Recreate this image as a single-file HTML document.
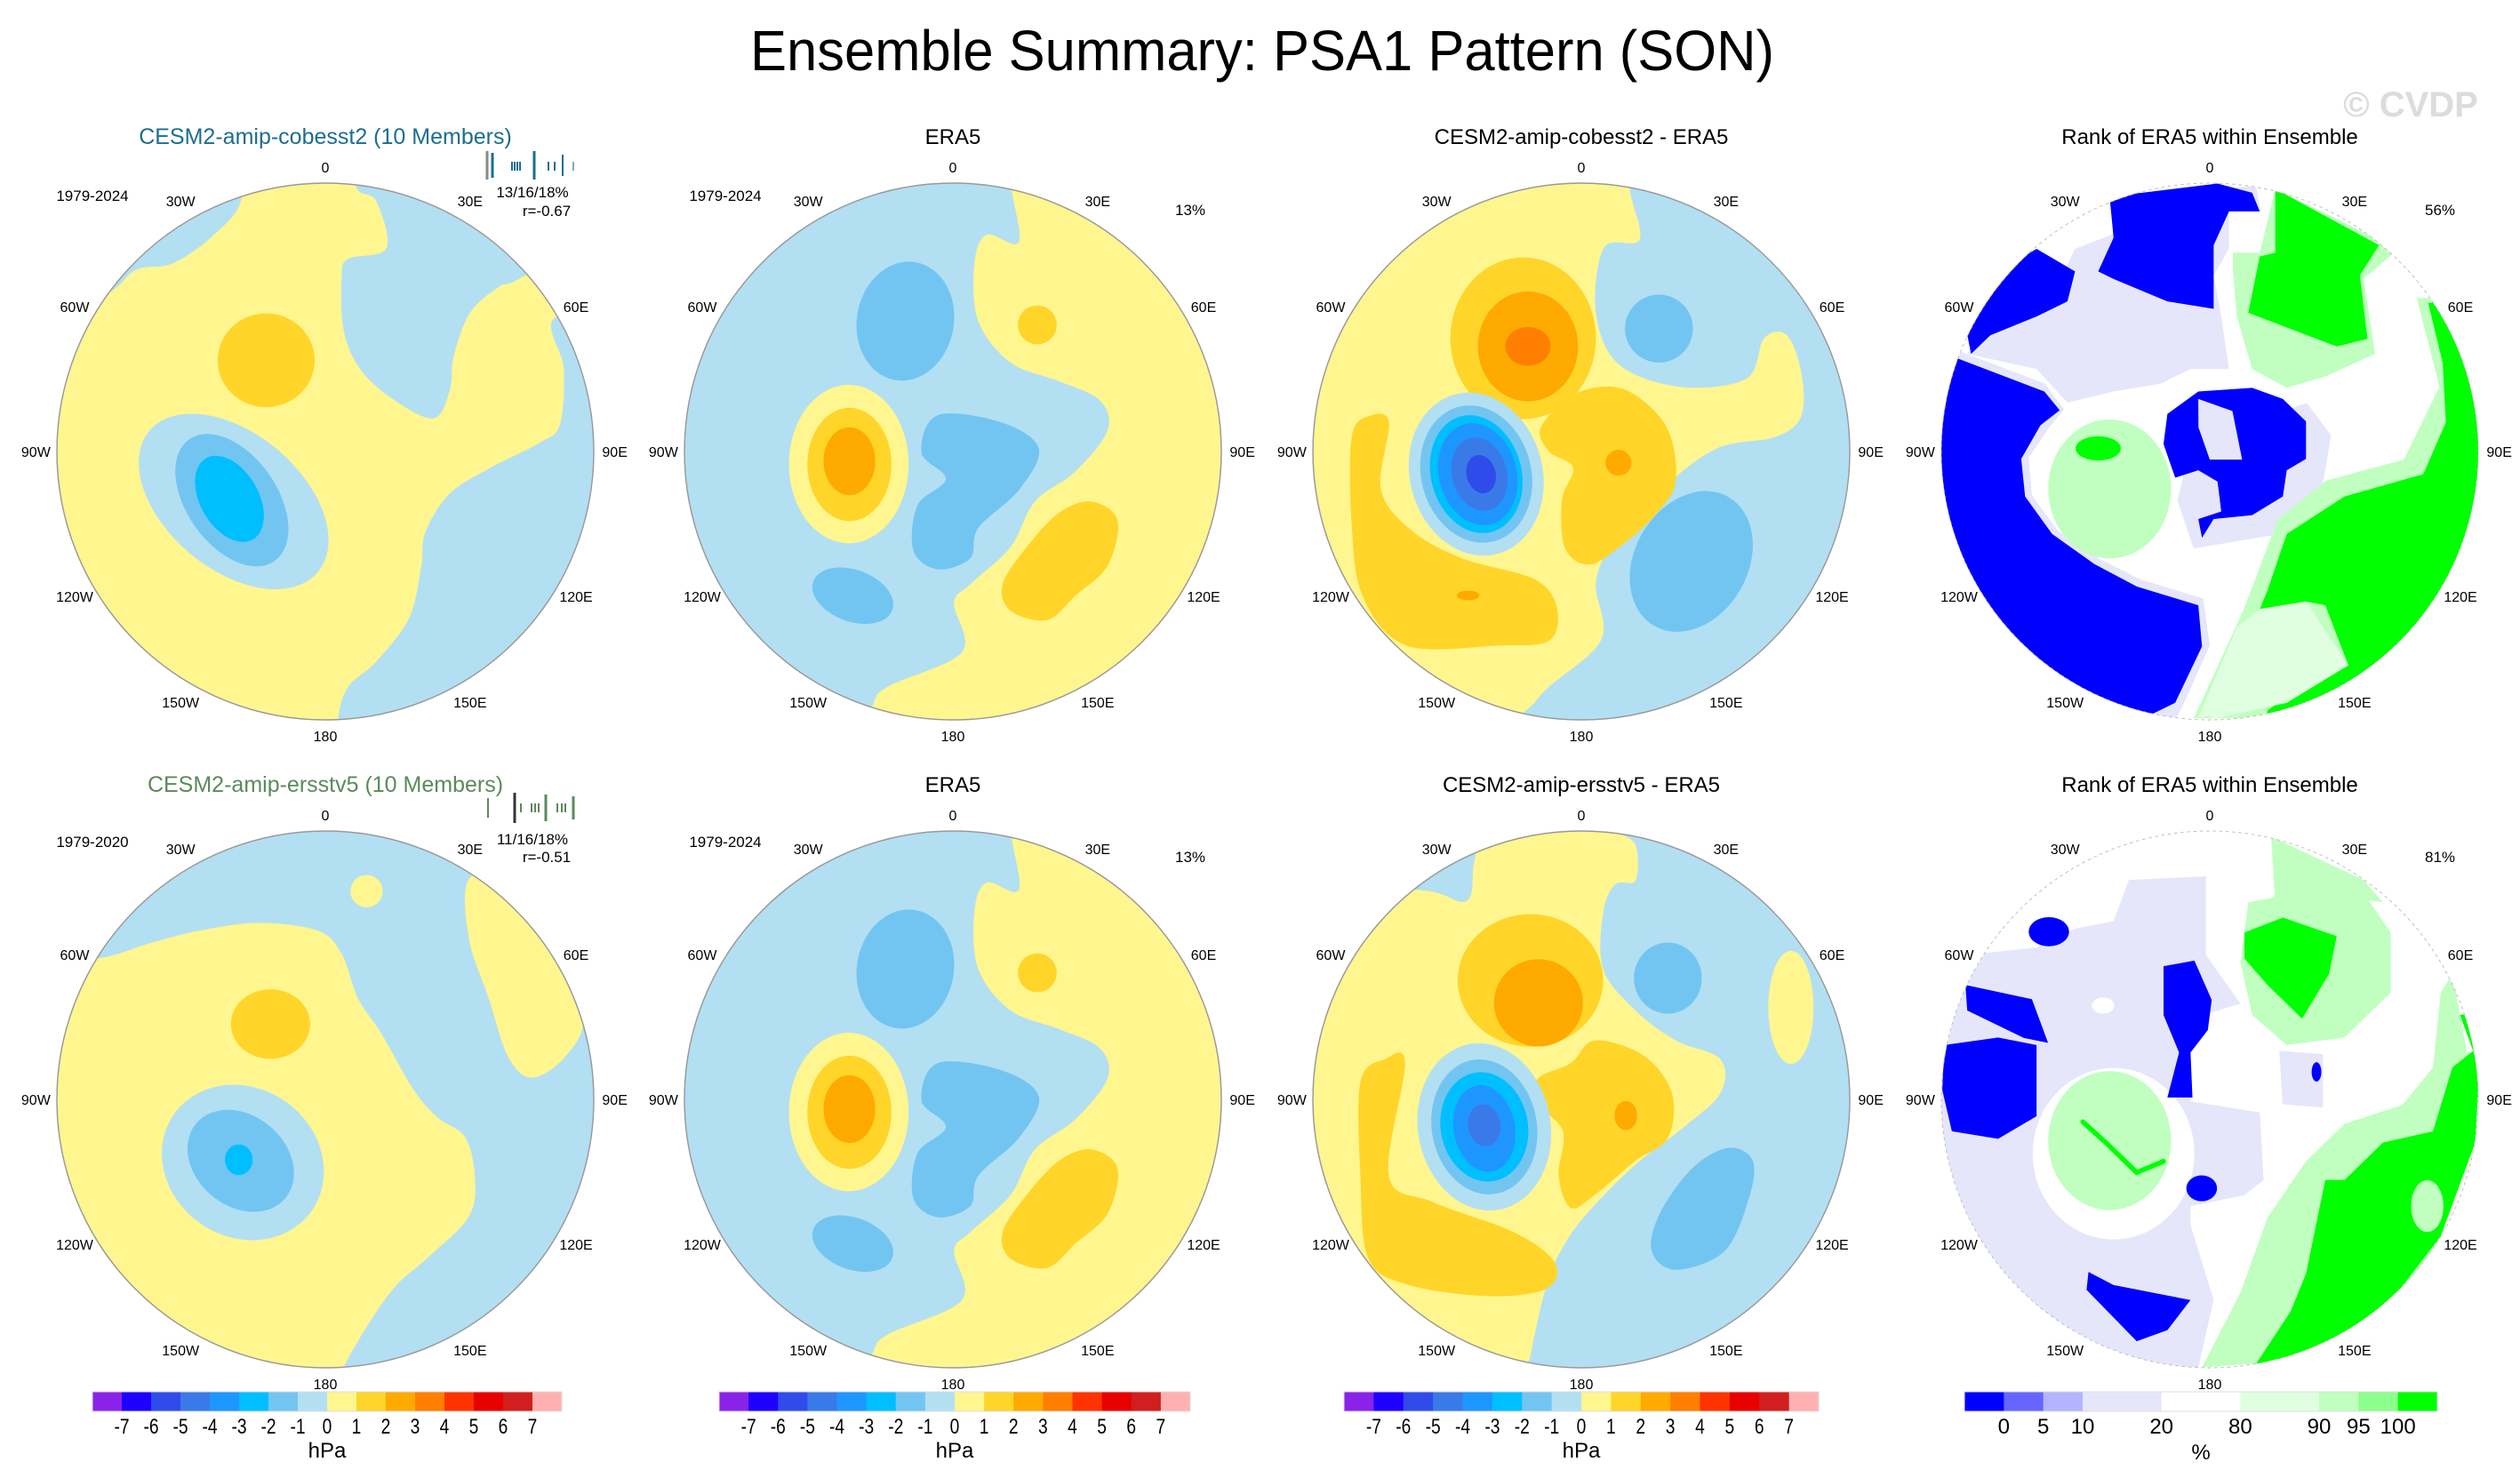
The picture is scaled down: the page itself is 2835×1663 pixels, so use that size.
<!DOCTYPE html>
<html><head><meta charset="utf-8"><title>Ensemble Summary: PSA1 Pattern (SON)</title>
<style>html,body{margin:0;padding:0;background:#fff}svg{display:block}text{font-family:"Liberation Sans",Arial,sans-serif}</style>
</head><body>
<svg id="fig" xmlns="http://www.w3.org/2000/svg" width="2835" height="1663" viewBox="0 0 2835 1663">
<rect width="2835" height="1663" fill="#fff"/>
<text x="1420" y="79" font-size="64" text-anchor="middle" textLength="1152" lengthAdjust="spacingAndGlyphs">Ensemble Summary: PSA1 Pattern (SON)</text>
<text x="2712" y="131" font-size="40" font-weight="bold" fill="#dcdcdc" text-anchor="middle">© CVDP</text>
<g id="panels"></g>
</svg>
<script>
// colour scale data (hPa)
const hpaLabels=["-7","-6","-5","-4","-3","-2","-1","0","1","2","3","4","5","6","7"];
const hpaColors=["#8A22E8","#1E00FF","#2F4BEA","#3A7AE8","#1E96FF","#00BFFF","#73C5F1","#B3DFF3","#FFF68F","#FFD52A","#FFAA00","#FF7F00","#FF3300","#E80000","#D11E1E","#FFB1B1"];
// rank scale data (%)
const rankLabels=["0","5","10","20","80","90","95","100"];
const rankColors=["#0000FF","#6666FF","#B3B3FF","#E6E6FA","#FFFFFF","#E0FFE0","#C0FFC0","#8CFF8C","#00FF00"];
const rankWeights=[1,1,1,2,2,2,1,1,1];
const lonLabels=["0","30E","60E","90E","120E","150E","180","150W","120W","90W","60W","30W"];

const LB="#B3DFF3",MB="#73C5F1",CY="#00BFFF",B4="#1E96FF",B5="#3A7AE8",Y="#FFF68F",G="#FFD52A",O="#FFAA00",DO="#FF7F00";
const BL="#0000FF",LAV="#E6E6FA",W="#FFFFFF",LG="#C0FFC0",LLG="#E0FFE0",GR="#00FF00";

const P1=[Y,
 ['p',LB,[18.9,-164.2,31.5,-154.9,37.8,-125.7,13.9,-119,10.1,-107,11.3,-75.1,21.4,-51.1,41.6,-32.5,66.8,-20.5,76.9,-37.8,79.4,-59.1,89.5,-85.8,107.2,-101.7,124.8,-109.7,200,-160,100,-200,18,-200]],
 ['p',LB,[142.5,-83,147.5,-51.1,145,-16.5,132.4,-5.3,102.1,10.1,76.9,26.1,61.8,50,59.3,71.3,51.7,103.3,31.5,129.9,13.9,145.9,7.6,167.2,7,200,200,200,200,-83]],
 ['p',LB,[-140,-96.4,-117.2,-112.3,-94.6,-116.3,-69.4,-133.6,-51.7,-157.6,-60,-200,-200,-200,-200,-96]],
 ['e',LB,-56.7,30.9,68,42,40],['e',MB,-57.8,30.1,46,28,55],['e',CY,-59.3,29.3,29,18,60],
 ['e',G,-36.6,-56.4,30,29,0]];
const PERA=[LB,
 ['p',Y,[35.7,-165.5,40.7,-129.5,20.7,-134,13.2,-115.5,15.7,-80.6,35.7,-55,65.7,-43.4,90.7,-31.8,95.7,-13.2,75.7,12.4,50.7,31,35.7,59,10.7,82.2,0.7,93.8,5.7,124,-39.4,145,-49.4,156.6,-60,190,190,190,190,-190,35,-190]],
 ['e',MB,-29.4,-80.6,30,37,10],
 ['p',MB,[-9.3,-22.5,30.7,-17.8,53.2,-1.5,40.7,24,15.7,47.3,10.7,66,-9.3,72.9,-24.4,61.3,-21.9,33.3,-4.3,17,-19.4,0.8]],
 ['e',MB,-61.9,89.2,26,16,20],
 ['e',Y,-64.4,7.8,37,49,0],['e',G,-64,8,26,35,0],['e',O,-64,6,16,21,0],
 ['e',G,52.2,-78.3,12,12,0],
 ['p',G,[85.7,31,101.8,42.6,95.7,70.6,75.7,89.2,58.2,104.3,35.7,98.5,30.7,82.2,45.7,59,65.7,37.9]]];
const P3=[Y,
 ['p',LB,[30,-162,36,-131,14,-126,9,-86,23,-54,61,-40,102,-45,113,-70,127,-72,136,-49,136,-22,120,-9,84,-2,50,23,21,54,9,81,12,117,-27,153,-40,190,190,190,190,-190,30,-190]],
 ['e',MB,48,-76,21,21,0],['e',MB,68,68,35,46,30],
 ['e',G,-36,-70,45,50,0],['e',O,-33,-65,31,34,0],['e',DO,-33,-65,14,12,0],
 ['p',G,[-5,-35,20,-40,40,-30,55,-10,58,20,45,40,25,58,5,70,-10,60,-12,30,-5,10,-20,0,-25,-15]],
 ['e',O,23,7,8,8,0],
 ['p',G,[-142,45,-142,-9,-131,-22,-119,-18,-124,23,-106,48,-74,66,-29,79,-15,97,-20,117,-51,120,-108,120,-135,90]],
 ['e',O,-70,89,7,3,0],
 ['e',LB,-65,14,41,51,-15],['e',MB,-65,14,34,43,-15],['e',CY,-65,14,28,37,-15],['e',B4,-64,14,24,32,-15],['e',B5,-63,14,17,23,-15],['e',"#2F4BEA",-62,14,9,12,-15]];
const P5=[LB,
 ['p',Y,[-141.8,-87.1,-107.5,-96.9,-78,-104.3,-41.3,-109.2,-4.4,-104.3,10.3,-89.6,20.1,-62.6,34.8,-40.5,54.5,-6.1,69.2,11,86.4,23.3,92.5,47.9,88.8,72.4,64.3,97,44.7,114.1,30,133.8,15.2,158.3,10.3,170,10,190,-190,190,-190,-87]],
 ['p',Y,[88.8,-136.2,115.8,-138.6,152.6,-99.4,160,-50.3,147.7,-25.8,128,-13.5,113.3,-25.8,101,-62.6,88.8,-99.4]],
 ['e',Y,25.5,-128.8,10,10,0],
 ['e',LB,-51,39,52,46,35],['e',MB,-52.3,38,36,28,40],['e',CY,-53.5,37.3,8.6,9.5,0],
 ['e',G,-33.9,-46.6,24.5,21.5,0]];
const P7=[Y,
 ['p',LB,[-104,-129.5,-71.5,-122.5,-66.5,-145.8,-61.5,-159.7,-41.6,-167.9,-60,-200,-200,-200,-200,-120]],
 ['p',LB,[21,-167.9,33.5,-157.4,33.5,-135.3,21,-133,13.5,-115.5,13.5,-80.6,33.5,-55,58.5,-36.4,86,-24.8,86,-3.9,63.6,17,33.5,40.3,3.5,70.6,-11.5,91.5,-21.5,114.8,-31.5,159,-35,190,190,190,190,-190,21,-190]],
 ['e',Y,129.6,-56.9,14,35,0],['e',MB,53.5,-75,21,22,0],
 ['p',MB,[91,29.9,106,38,103.6,61.3,88.6,93.8,58.5,105.4,43.5,93.8,48.5,70.6,68.6,42.6]],
 ['e',G,-31.5,-73.6,45,41,0],['e',O,-26.5,-59.7,27.5,27,0],
 ['p',G,[8.5,-36.4,38.5,-27.1,56,-3.9,53.5,24,33.5,38,8.5,58.9,-6.5,67.1,-14,47.3,-11.5,19.4,-29,0.8,-26.5,-13.2,-6.5,-22.5]],
 ['e',O,27.5,10,7,9,0],
 ['p',G,[-121.6,-24.8,-109,-22.5,-119,47.3,-91.6,63.6,-41.6,82.2,-16.5,100.8,-21.5,117,-56.5,121.7,-106.6,114.8,-131.6,98.5,-136.6,47.3,-136.6,-10.9]],
 ['e',LB,-60,17,41,52,-10],['e',MB,-60,17,32.5,42,-10],['e',CY,-60,17,27,34,-10],['e',B4,-60,18,19,27,-10],['e',B5,-60,16,10,13,-10]];
const P4=[W,
 ['q',LAV,[-61.9,-153,-59.5,-134.6,-83.3,-125.3,-102.3,-85.8,-142.8,-71.9,-149.9,-60.3,-107.1,-51,-88,-30.2,-59.5,-37.1,-30.9,-41.8,-11.9,-51,11.9,-51,7.1,-83.5,2.4,-109,11.9,-125.3,11.9,-148.5,30.9,-150.8,28.6,-164.7]],
 ['q',BL,[-61.9,-157.6,4.8,-165.7,26.2,-160,30.9,-148.5,11.9,-148.5,2.4,-127.6,2.4,-88.2,-26.2,-92.8,-59.5,-106.7,-69,-111.4,-59.5,-132.2]],
 ['q',BL,[-107.1,-125.3,-83.3,-111.4,-88,-92.8,-107.1,-83.5,-135.7,-71.9,-147.6,-60.3,-149.9,-71.9,-130.9,-111.4]],
 ['q',LAV,[-160,-64,-102,-42,-90,-26,-100,-14,-112,4,-110,27,-94,49,-69,66,-43,79,-4,91,0,120,-17,158,-40,200,-200,200,-200,-64]],
 ['q',BL,[-157.1,-58,-102.3,-37.1,-92.8,-25.5,-104.7,-16.2,-116.6,4.6,-114.2,27.8,-97.5,51,-71.4,69.6,-45.2,83.5,-7.1,95.1,-4.8,120.6,-21.4,155.4,-35.7,162.4,-40,200,-200,200,-200,-58]],
 ['e',LG,-61.9,23.2,38,43,0],['e',GR,-69,-1.9,14,7.5,0],
 ['q',LAV,[-10,-10,30,-20,60,-30,75,-10,70,20,50,50,20,55,-10,60,-20,30]],
 ['q',BL,[-26.2,-23.2,-7.1,-37.1,26.2,-39.4,45.2,-32.5,59.5,-18.6,59.5,4.6,47.6,11.6,45.2,27.8,26.2,39.4,2.4,41.8,-4.8,53.4,-7.1,41.8,7.1,37.1,4.8,18.6,-7.1,11.6,-21.4,16.2,-28.6,-4.6]],
 ['q',LAV,[-7.1,-32.5,14,-25,20,5,0,5,-7,-15]],
 ['q',LG,[14.3,-122.9,30.9,-122.9,40.5,-162.4,116.6,-125.3,95.2,-106.7,102.3,-60.3,71.4,-46.4,47.6,-39.4,26.2,-51,16.7,-83.5,14.3,-111.4]],
 ['q',GR,[40.5,-162.4,104.7,-127.6,92.8,-109,97.5,-69.6,78.5,-64.9,23.8,-85.8,30.9,-120.6,40.5,-122.9]],
 ['q',LG,[128,-95,142,-40,120,5,72,18,42,42,27,82,20,100,-10,165,60,165,200,200,200,-95]],
 ['q',LLG,[31,97.4,59.5,92.8,85.7,132.2,47.6,155.4,-7.1,164.7,16.7,109]],
 ['q',GR,[135,-92,144,-55,146,-18,132,14,83.3,27.8,47.6,51,35.7,85.8,31,97.4,59.5,92.8,71.4,95.1,85.7,132.2,59.5,143.8,35.7,160,30,200,200,200,200,-92]],
 ['q',LLG,[31,97.4,59.5,92.8,85.7,132.2,47.6,155.4,0,166,16.7,109]]];
const P8=[W,
 ['q',LAV,[-150,-89.3,-107.1,-94,-83.3,-105.6,-59.5,-110.2,-50,-135.7,-2.4,-138,-2.4,-89.3,19,-59.2,-11.9,-49.9,-11.9,1.2,30.9,8.1,33.3,49.9,21.4,59.2,-11.9,66.1,-11.9,77.7,2.4,124.1,-7.1,165.9,-10,200,-200,200,-200,-89]],
 ['q',LAV,[43,-30,70,-28,70,5,45,3]],
 ['e',W,-59.5,33.6,50,53,0],['e',LG,-61.9,25.5,38,43,0],
 ['l',GR,[-78.5,13.9,-64.3,26.7,-45.2,45.2,-28.6,38.3]],
 ['e',W,-66,-58,7,5,0],
 ['q',BL,[-164.2,-33.6,-130.9,-38.3,-107.1,-33.6,-107.1,10.4,-130.9,24.4,-159.5,19.7,-165.4,-5.8]],
 ['q',BL,[-151.1,-70.8,-110,-62,-100,-35,-115,-38,-150,-55]],
 ['e',BL,-99.5,-103.7,12.5,9,0],
 ['q',BL,[-28.6,-82.4,-9.5,-85.8,1.2,-61.5,-1.2,-42.9,-11.9,-29,-10.7,-1.2,-26.2,-1.2,-19,-29,-28.6,-52.2]],
 ['e',BL,-5,55,9.5,8,0],
 ['q',BL,[-75,106.7,-59.5,114.8,-11.9,124.1,-26.2,142.7,-45.2,149.6,-76.2,117.8]],
 ['e',BL,66,-17,3,6,0],
 ['q',LG,[23.8,-121.8,59.5,-128.8,97.5,-124.1,111.9,-103.2,111.9,-66.1,83.3,-38.3,47.6,-33.6,26.2,-52.2,19,-84.7]],
 ['q',LG,[38,-162.4,95.2,-135.7,107.1,-121.8,59.5,-128.8,40.5,-119.5]],
 ['q',GR,[21.4,-103.2,45.2,-112.5,78.5,-100.9,73.8,-77.7,57.1,-49.9,35.7,-70.8,21.4,-87.1]],
 ['q',LG,[150,-77.7,164.2,-1.2,154.7,49.9,130.9,119.5,59.5,161.2,-4.8,165.8,19,119.5,35.7,73.1,59.5,38.3,83.3,15.1,119,3.5,138,-19.7,142.8,-66.1]],
 ['q',GR,[154.7,-52.2,166.6,-19.7,164.2,26.7,142.8,84.7,107.1,131.1,59.5,156.6,28.6,163.6,50,131.1,59.5,107.9,71.4,49.9,83.3,49.9,107.1,26.7,138,19.7,150,-19.7,200,-60]],
 ['e',LG,134.5,66,10,16,0]];

const SVGNS="http://www.w3.org/2000/svg";
const root=document.getElementById('panels');
const S=302/166;
function mk(tag,attrs,parent){const e=document.createElementNS(SVGNS,tag);for(const k in attrs)e.setAttribute(k,attrs[k]);(parent||root).appendChild(e);return e;}
function smooth(p){const n=p.length/2;let pts=[];for(let i=0;i<n;i++)pts.push([p[2*i],p[2*i+1]]);
 let d="M"+pts[0][0]+","+pts[0][1];
 for(let i=0;i<n;i++){const p0=pts[(i-1+n)%n],p1=pts[i],p2=pts[(i+1)%n],p3=pts[(i+2)%n];
  d+="C"+(p1[0]+(p2[0]-p0[0])/6)+","+(p1[1]+(p2[1]-p0[1])/6)+" "+(p2[0]-(p3[0]-p1[0])/6)+","+(p2[1]-(p3[1]-p1[1])/6)+" "+p2[0]+","+p2[1];}
 return d+"Z";}
function poly(p){let d="M"+p[0]+","+p[1];for(let i=2;i<p.length;i+=2)d+="L"+p[i]+","+p[i+1];return d+"Z";}
let clipN=0;
function panel(cx,cy,shapes,name,rank){
 const id="clip"+(clipN++);
 const cp=mk('clipPath',{id:id});mk('circle',{cx:0,cy:0,r:166},cp);
 const g=mk('g',{transform:`translate(${cx},${cy}) scale(${S})`});
 
 
 const inner=mk('g',{'clip-path':`url(#${id})`},g);
 mk('rect',{x:-170,y:-170,width:340,height:340,fill:shapes[0]},inner);
 for(let i=1;i<shapes.length;i++){const s=shapes[i];let el;
  if(s[0]==='e')el=mk('ellipse',{cx:0,cy:0,rx:s[4],ry:s[5],fill:s[1],transform:`translate(${s[2]},${s[3]}) rotate(${s[6]})`},inner);
  else if(s[0]==='p')el=mk('path',{d:smooth(s[2]),fill:s[1]},inner);
  else if(s[0]==='q')el=mk('path',{d:poly(s[2]),fill:s[1]},inner);
  else if(s[0]==='l'){let d="M"+s[2][0]+","+s[2][1];for(let k=2;k<s[2].length;k+=2)d+="L"+s[2][k]+","+s[2][k+1];el=mk('path',{d:d,fill:'none',stroke:s[1],'stroke-width':3,'stroke-linecap':'round'},inner);}
  
  }
 const b=mk('circle',{cx:0,cy:0,r:166,fill:'none',stroke:rank?'#bbb':'#999','stroke-width':rank?0.5:0.8,'stroke-dasharray':rank?'2,2':'none'},g);
 
 
 lonLabels.forEach((lab,i)=>{const a=i*30*Math.PI/180;const R=(i===0||i===6)?176:179;
  const t=mk('text',{x:cx+S*R*Math.sin(a),y:cy-S*R*Math.cos(a)+6,'font-size':16,'text-anchor':'middle'});t.textContent=lab;
  
  });
}
function txt(x,y,s,str,name,extra){const t=mk('text',Object.assign({x:x,y:y,'font-size':s},extra||{}));t.textContent=str;
 
 return t;}
const cxs=[366,1072,1779,2486],cys=[508,1237];
panel(cxs[0],cys[0],P1,'map-cobesst2',false);
panel(cxs[1],cys[0],PERA,'map-era5-row1',false);
panel(cxs[2],cys[0],P3,'map-diff-cobesst2',false);
panel(cxs[3],cys[0],P4,'map-rank-row1',true);
panel(cxs[0],cys[1],P5,'map-ersstv5',false);
panel(cxs[1],cys[1],PERA,'map-era5-row2',false);
panel(cxs[2],cys[1],P7,'map-diff-ersstv5',false);
panel(cxs[3],cys[1],P8,'map-rank-row2',true);

const tY=[162,891];
txt(366,tY[0],25,"CESM2-amip-cobesst2 (10 Members)","title-cobesst2",{'text-anchor':'middle',fill:'#1B6E8F'});
txt(1072,tY[0],24,"ERA5","title-era5-row1",{'text-anchor':'middle'});
txt(1779,tY[0],24,"CESM2-amip-cobesst2 - ERA5","title-diff-row1",{'text-anchor':'middle'});
txt(2486,tY[0],24,"Rank of ERA5 within Ensemble","title-rank-row1",{'text-anchor':'middle'});
txt(366,tY[1],25,"CESM2-amip-ersstv5 (10 Members)","title-ersstv5",{'text-anchor':'middle',fill:'#5B8A5B'});
txt(1072,tY[1],24,"ERA5","title-era5-row2",{'text-anchor':'middle'});
txt(1779,tY[1],24,"CESM2-amip-ersstv5 - ERA5","title-diff-row2",{'text-anchor':'middle'});
txt(2486,tY[1],24,"Rank of ERA5 within Ensemble","title-rank-row2",{'text-anchor':'middle'});
txt(104,226,17,"1979-2024","years-cobesst2",{'text-anchor':'middle'});
txt(104,953,17,"1979-2020","years-ersstv5",{'text-anchor':'middle'});
txt(816,226,17,"1979-2024","years-era5-row1",{'text-anchor':'middle'});
txt(816,953,17,"1979-2024","years-era5-row2",{'text-anchor':'middle'});
txt(1339,242,17,"13%","pct-era5-row1",{'text-anchor':'middle'});
txt(1339,970,17,"13%","pct-era5-row2",{'text-anchor':'middle'});
txt(2745,242,17,"56%","pct-rank-row1",{'text-anchor':'middle'});
txt(2745,970,17,"81%","pct-rank-row2",{'text-anchor':'middle'});
txt(599,222,17,"13/16/18%","stats-cobesst2",{'text-anchor':'middle'});
txt(615,243,17,"r=-0.67","corr-cobesst2",{'text-anchor':'middle'});
txt(599,950,17,"11/16/18%","stats-ersstv5",{'text-anchor':'middle'});
txt(615,970,17,"r=-0.51","corr-ersstv5",{'text-anchor':'middle'});
const ticks1=[[548,170,202,'#888'],[554,172,200,'#1B6E8F'],[576,182,192,'#1B6E8F'],[579,182,192,'#1B6E8F'],[582,182,192,'#1B6E8F'],[585,182,192,'#1B6E8F'],[601,170,202,'#1B6E8F'],[617,182,192,'#1B6E8F'],[624,182,192,'#1B6E8F'],[633,174,198,'#1B6E8F'],[645,182,192,'#8ab']];
const ticks2=[[549,898,920,'#5B8A5B'],[579,892,926,'#333'],[586,904,914,'#5B8A5B'],[598,904,914,'#5B8A5B'],[602,904,914,'#5B8A5B'],[606,904,914,'#5B8A5B'],[614,894,924,'#5B8A5B'],[627,904,914,'#5B8A5B'],[632,904,914,'#5B8A5B'],[636,904,914,'#5B8A5B'],[645,896,922,'#5B8A5B']];
[ticks1,ticks2].forEach(ts=>ts.forEach(t=>{const l=mk('line',{x1:t[0],x2:t[0],y1:t[1],y2:t[2],stroke:t[3],'stroke-width':(t[2]-t[1]>25)?3:2});
 
 }));

const cbY=1566,cbH=22;
const hpaBars=[[104,632],[809,1339],[1512,2046]];
hpaBars.forEach((b,bi)=>{const w=(b[1]-b[0])/hpaColors.length;
 const g=mk('g',{});
 
 
 hpaColors.forEach((c,i)=>{const r=mk('rect',{x:b[0]+i*w,y:cbY,width:w+0.5,height:cbH,fill:c},g);
  
  });
 mk('rect',{x:b[0],y:cbY,width:b[1]-b[0],height:cbH,fill:'none',stroke:'#ddd','stroke-width':1},g);
 hpaLabels.forEach((l,i)=>{txt(b[0]+(i+1)*w,1613,24,l,'colorbar-tick-label',{'text-anchor':'middle',transform:`translate(${b[0]+(i+1)*w},0) scale(0.8,1) translate(${-(b[0]+(i+1)*w)},0)`});});
 txt((b[0]+b[1])/2,1640,24,"hPa",'colorbar-unit',{'text-anchor':'middle'});
});
const rx0=2210,rx1=2742;
const rTot=rankWeights.reduce((a,b)=>a+b,0);
let acc=0;const rPos=[rx0];
rankWeights.forEach(wt=>{acc+=wt;rPos.push(rx0+(rx1-rx0)*acc/rTot);});
const rg=mk('g',{});


rankColors.forEach((c,i)=>{const r=mk('rect',{x:rPos[i],y:cbY,width:rPos[i+1]-rPos[i]+0.5,height:cbH,fill:c},rg);
 
 });
mk('rect',{x:rx0,y:cbY,width:rx1-rx0,height:cbH,fill:'none',stroke:'#ddd','stroke-width':1},rg);
rankLabels.forEach((l,i)=>{txt(rPos[i+1],1613,24,l,'colorbar-tick-label',{'text-anchor':'middle'});});
txt((rx0+rx1)/2,1642,24,"%",'colorbar-unit',{'text-anchor':'middle'});
</script>
</body></html>
